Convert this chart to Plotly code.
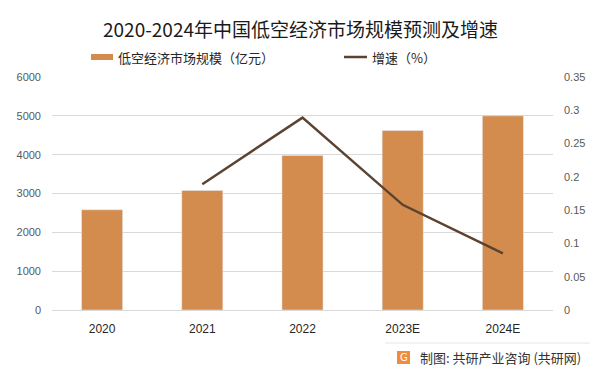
import plotly.graph_objects as go

years = ["2020", "2021", "2022", "2023E", "2024E"]
market_size = [2580, 3080, 3980, 4620, 5000]
growth_years = ["2021", "2022", "2023E", "2024E"]
growth = [0.189, 0.289, 0.158, 0.085]
left_ticks = [0, 1000, 2000, 3000, 4000, 5000, 6000]
right_ticks = [0, 0.05, 0.1, 0.15, 0.2, 0.25, 0.3, 0.35]
right_labels = ["0", "0.05", "0.1", "0.15", "0.2", "0.25", "0.3", "0.35"]

W, H = 601, 375
L, R, T, B = 52, 553, 77, 310

def px(x):
    return (x - L) / (R - L)

def py(y):
    return (B - y) / (B - T)

BAR = "#D38B4E"
LINE = "#5C4331"
FONT = "Noto Sans CJK SC"

fig = go.Figure()
fig.add_trace(go.Bar(x=years, y=market_size, marker_color=BAR, width=0.41,
                     name="低空经济市场规模（亿元）", showlegend=False))
fig.add_trace(go.Scatter(x=growth_years, y=growth, mode="lines", yaxis="y2",
                         line=dict(color=LINE, width=2.5), name="增速（%）",
                         showlegend=False))

shapes = [
    dict(type="rect", xref="paper", yref="paper", x0=px(91), x1=px(113),
         y0=py(60), y1=py(54), fillcolor=BAR, line_width=0),
    dict(type="line", xref="paper", yref="paper", x0=px(344), x1=px(367),
         y0=py(57), y1=py(57), line=dict(color=LINE, width=2.5)),
    dict(type="line", xref="paper", yref="paper", x0=px(385), x1=px(590),
         y0=py(343), y1=py(343), line=dict(color="#e6e6e6", width=1)),
    dict(type="rect", xref="paper", yref="paper", x0=px(397), x1=px(410),
         y0=py(364), y1=py(351), fillcolor="#F08C3C", line_width=0),
]
annotations = [
    dict(text="低空经济市场规模（亿元）", xref="paper", yref="paper", x=px(116), y=py(57),
         xanchor="left", yanchor="middle", showarrow=False,
         font=dict(family=FONT, size=13, color="#262626")),
    dict(text="增速（%）", xref="paper", yref="paper", x=px(370), y=py(57),
         xanchor="left", yanchor="middle", showarrow=False,
         font=dict(family=FONT, size=13, color="#262626")),
    dict(text="G", xref="paper", yref="paper", x=px(403.5), y=py(357.5),
         xanchor="center", yanchor="middle", showarrow=False,
         font=dict(family="DejaVu Sans", size=10, color="white")),
    dict(text="制图: 共研产业咨询 (共研网)", xref="paper", yref="paper", x=px(418), y=py(357),
         xanchor="left", yanchor="middle", showarrow=False,
         font=dict(family=FONT, size=13, color="#333333")),
]

fig.update_layout(
    width=W, height=H,
    margin=dict(l=L, r=W - R, t=T, b=H - B, autoexpand=False),
    paper_bgcolor="white", plot_bgcolor="white",
    title=dict(text="2020-2024年中国低空经济市场规模预测及增速", x=0.5, xanchor="center",
               y=1 - 30 / H, yanchor="middle", font=dict(family=FONT, size=19, color="#1a1a1a")),
    xaxis=dict(tickfont=dict(family="Liberation Sans", size=12, color="#262626"),
               showline=True, linecolor="#d9d9d9", linewidth=1, ticks="",
               ticklabelstandoff=8),
    yaxis=dict(range=[0, 6000], tickvals=left_ticks, showgrid=True, gridcolor="#d9d9d9",
               zeroline=False, tickfont=dict(family="Liberation Sans", size=11, color="#595959"),
               ticks="", ticklabelstandoff=10),
    yaxis2=dict(range=[0, 0.35], tickvals=right_ticks, ticktext=right_labels, overlaying="y",
                side="right", showgrid=False, zeroline=False,
                tickfont=dict(family="Liberation Sans", size=11, color="#595959"),
                ticks="", ticklabelstandoff=10),
    shapes=shapes, annotations=annotations, bargap=0.59,
)

fig.write_html("out.html", config={"displayModeBar": False},
               post_script="document.body.style.margin='0';")
